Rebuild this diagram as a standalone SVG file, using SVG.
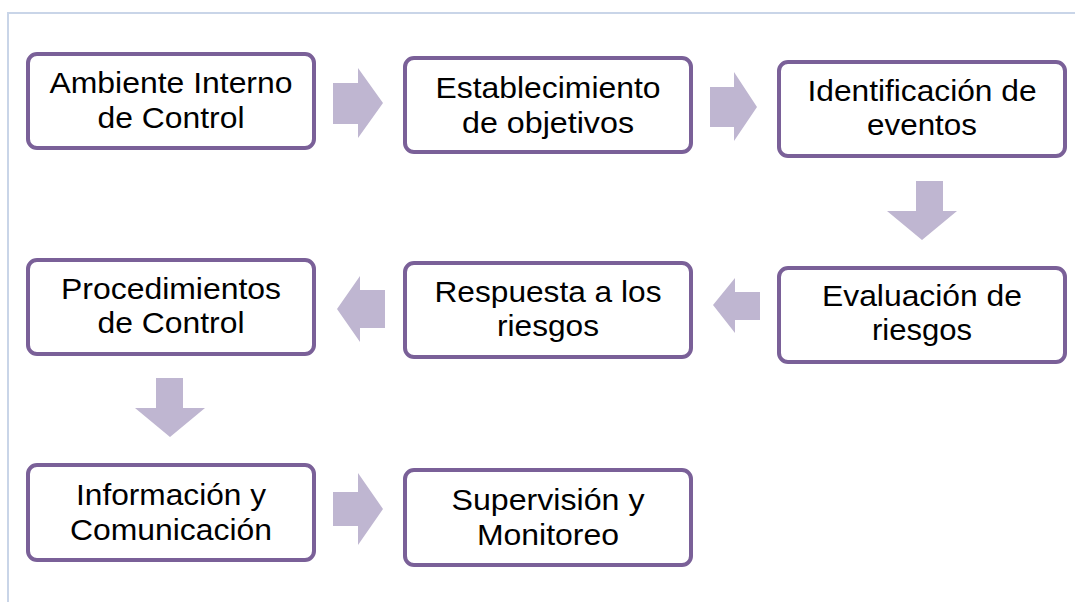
<svg xmlns="http://www.w3.org/2000/svg" width="1075" height="602" viewBox="0 0 1075 602">
<style>
.box{fill:#ffffff;stroke:#7a6098;stroke-width:4}
.arr{fill:#bfb6d1}
.page{stroke:#c9d5e8;stroke-width:2;fill:none}
text{font-family:"Liberation Sans",Arial,sans-serif;font-size:30px;fill:#000;text-anchor:middle}
</style>
<rect width="1075" height="602" fill="#ffffff"/>
<path class="page" d="M8,602 V13 H1075"/>
<g id="connectors">
<polygon class="arr" points="333,83 358,83 358,68 383,103 358,138 358,124 333,124"/>
<polygon class="arr" points="710,87 734,87 734,72 757,107 734,141 734,127 710,127"/>
<polygon class="arr" points="916,181 943,181 943,211 957,211 922,240 887,211 916,211"/>
<polygon class="arr" points="760,292 735,292 735,278 713,305 735,333 735,320 760,320"/>
<polygon class="arr" points="385,290 360,290 360,276 337,309 360,342 360,328 385,328"/>
<polygon class="arr" points="156,378 183,378 183,408 205,408 170,437 135,408 156,408"/>
<polygon class="arr" points="333,492 358,492 358,473 383,509 358,545 358,526 333,526"/>
</g>
<g id="n1"><rect class="box" x="28" y="54" width="286" height="94" rx="9"/>
<text x="171" y="93" textLength="243" lengthAdjust="spacingAndGlyphs">Ambiente Interno</text>
<text x="171" y="128" textLength="147" lengthAdjust="spacingAndGlyphs">de Control</text></g>
<g id="n2"><rect class="box" x="405" y="58" width="286" height="94" rx="9"/>
<text x="548" y="98" textLength="225" lengthAdjust="spacingAndGlyphs">Establecimiento</text>
<text x="548" y="133" textLength="172" lengthAdjust="spacingAndGlyphs">de objetivos</text></g>
<g id="n3"><rect class="box" x="779" y="62" width="286" height="94" rx="9"/>
<text x="922" y="101" textLength="229" lengthAdjust="spacingAndGlyphs">Identificación de</text>
<text x="922" y="135" textLength="110" lengthAdjust="spacingAndGlyphs">eventos</text></g>
<g id="n4"><rect class="box" x="779" y="268" width="286" height="94" rx="9"/>
<text x="922" y="306" textLength="200" lengthAdjust="spacingAndGlyphs">Evaluación de</text>
<text x="922" y="340" textLength="100" lengthAdjust="spacingAndGlyphs">riesgos</text></g>
<g id="n5"><rect class="box" x="405" y="263" width="286" height="94" rx="9"/>
<text x="548" y="302" textLength="227" lengthAdjust="spacingAndGlyphs">Respuesta a los</text>
<text x="548" y="336" textLength="102" lengthAdjust="spacingAndGlyphs">riesgos</text></g>
<g id="n6"><rect class="box" x="28" y="260" width="286" height="94" rx="9"/>
<text x="171" y="299" textLength="220" lengthAdjust="spacingAndGlyphs">Procedimientos</text>
<text x="171" y="333" textLength="147" lengthAdjust="spacingAndGlyphs">de Control</text></g>
<g id="n7"><rect class="box" x="28" y="465" width="286" height="95" rx="9"/>
<text x="171" y="505" textLength="190" lengthAdjust="spacingAndGlyphs">Información y</text>
<text x="171" y="540" textLength="202" lengthAdjust="spacingAndGlyphs">Comunicación</text></g>
<g id="n8"><rect class="box" x="405" y="470" width="286" height="95" rx="9"/>
<text x="548" y="510" textLength="193" lengthAdjust="spacingAndGlyphs">Supervisión y</text>
<text x="548" y="545" textLength="142" lengthAdjust="spacingAndGlyphs">Monitoreo</text></g>
</svg>
